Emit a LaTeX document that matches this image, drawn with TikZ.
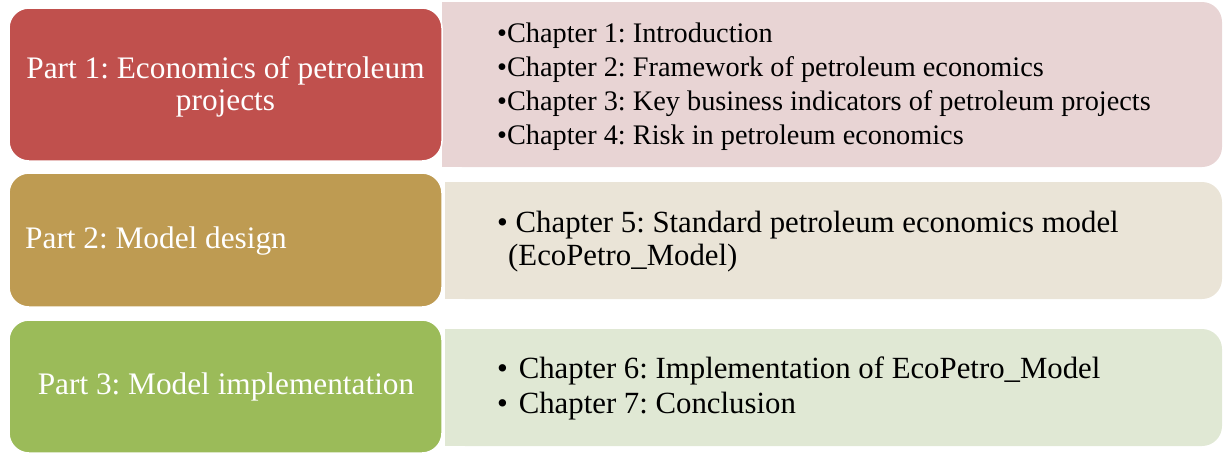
\documentclass[tikz,border=0pt]{standalone}
\usepackage{fontspec}
\setmainfont{Liberation Serif}
\frenchspacing
\definecolor{partA}{HTML}{C0504D}
\definecolor{partB}{HTML}{BE9B52}
\definecolor{partC}{HTML}{9BBB59}
\definecolor{lightA}{HTML}{E8D4D4}
\definecolor{lightB}{HTML}{EAE4D7}
\definecolor{lightC}{HTML}{E0E8D4}
\begin{document}
\begin{tikzpicture}[x=1pt,y=-1pt,
  partbox/.style={draw=white,line width=1.5pt,rounded corners=20pt},
  parttext/.style={inner sep=0pt,text=white,font=\fontsize{31.3}{32}\selectfont},
  chaptext/.style={inner sep=0pt,anchor=base west,text=black,font=\fontsize{28.3}{34}\selectfont},
  chapbig/.style={chaptext,font=\fontsize{30.8}{34}\selectfont}]
\useasboundingbox (0,0) rectangle (1223,453);
% right boxes
\fill[lightA,rounded corners=20pt] (442,2) rectangle (1222,167);
\fill[lightA] (442,2) rectangle (500,167);
\fill[lightB,rounded corners=20pt] (445,182) rectangle (1222,299);
\fill[lightB] (445,182) rectangle (500,299);
\fill[lightC,rounded corners=20pt] (445,329) rectangle (1222,446);
\fill[lightC] (445,329) rectangle (500,446);
% left boxes
\path[partbox,fill=partA] (9,8) rectangle (442,161);
\path[partbox,fill=partB] (9,173) rectangle (442,307);
\path[partbox,fill=partC] (9,320) rectangle (442,453);
% left texts
\node[parttext,anchor=base] (p1a) at (225.5,78) {Part 1: Economics of petroleum};
\node[parttext,anchor=base] (p1b) at (225.5,110) {projects};
\node[parttext,anchor=base west] (p2) at (25,248) {Part 2: Model design};
\node[parttext,anchor=base] (p3) at (226,394) {Part 3: Model implementation};
% right texts
\node[chaptext] (c1) at (497,42) {•Chapter 1: Introduction};
\node[chaptext] (c2) at (497,76) {•Chapter 2: Framework of petroleum economics};
\node[chaptext] (c3) at (497,110) {•Chapter 3: Key business indicators of petroleum projects};
\node[chaptext] (c4) at (497,144) {•Chapter 4: Risk in petroleum economics};
\node[chapbig] (c5a) at (497,232) {• Chapter 5: Standard petroleum economics model};
\node[chapbig] (c5b) at (508,265) {(EcoPetro\_Model)};
\node[chapbig] (c6) at (497,378) {•\hspace{0.35em}Chapter 6: Implementation of EcoPetro\_Model};
\node[chapbig] (c7) at (497,413) {•\hspace{0.35em}Chapter 7: Conclusion};
\end{tikzpicture}
\end{document}
